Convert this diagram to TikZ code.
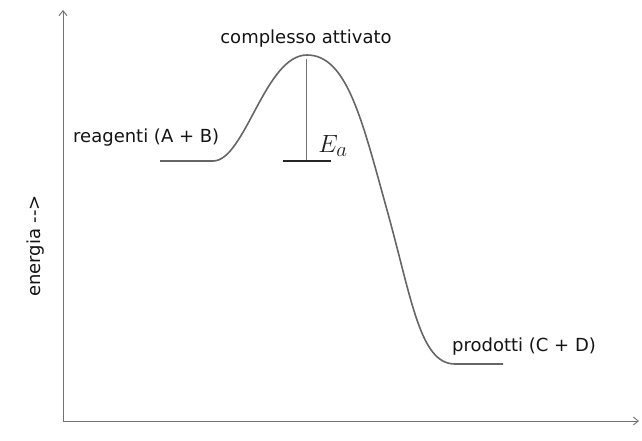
\documentclass[tikz,border=0pt]{standalone}
\usepackage{fontspec}
\setmainfont{DejaVu Sans}
\usetikzlibrary{arrows.meta}
\begin{document}
\begin{tikzpicture}[x=1pt,y=-1pt,
  axis/.style={draw=black!55,line width=0.9pt,-{Straight Barb[length=5pt,width=8pt]}},
  curve/.style={draw=black!60,line width=1.6pt},
  lbl/.style={text=black!92,font=\fontsize{18}{20}\selectfont,inner sep=0pt}]
\useasboundingbox (0,0) rectangle (642,441);
\fill[white] (0,0) rectangle (642,441);
\coordinate (O) at (63,421);
\coordinate (Ytop) at (63,10);
\coordinate (Xend) at (639,421);
\draw[axis] (O) -- (Ytop);
\draw[axis] (O) -- (Xend);
\coordinate (r0) at (160,161);
\coordinate (r1) at (213,161);
\coordinate (peak) at (307,55);
\coordinate (mid) at (387,210);
\coordinate (p0) at (455,364);
\coordinate (p1) at (503,364);
\draw[curve] (r0) -- (r1) .. controls (245,161) and (265,55) .. (peak)
  .. controls (347,55) and (362,120) .. (mid)
  .. controls (412,300) and (420,364) .. (p0) -- (p1);
\coordinate (eatop) at (306,59);
\coordinate (eabot) at (306,161);
\coordinate (barL) at (283,161);
\coordinate (barR) at (331,161);
\draw[black!55,line width=0.8pt] (eatop) -- (eabot);
\draw[black!85,line width=1.8pt] (barL) -- (barR);
\node[lbl] (compl) at (306,39) {complesso attivato};
\node[lbl,anchor=west] (reag) at (73,138) {reagenti (A + B)};
\node[lbl,anchor=west] (prod) at (452,347) {prodotti (C + D)};
\node[lbl,rotate=90] (energ) at (36,246) {energia -{}->};
\node[text=black!88,font=\fontsize{29}{32}\selectfont,inner sep=0pt] (Ea) at (333,146) {$E_a$};
\end{tikzpicture}
\end{document}
